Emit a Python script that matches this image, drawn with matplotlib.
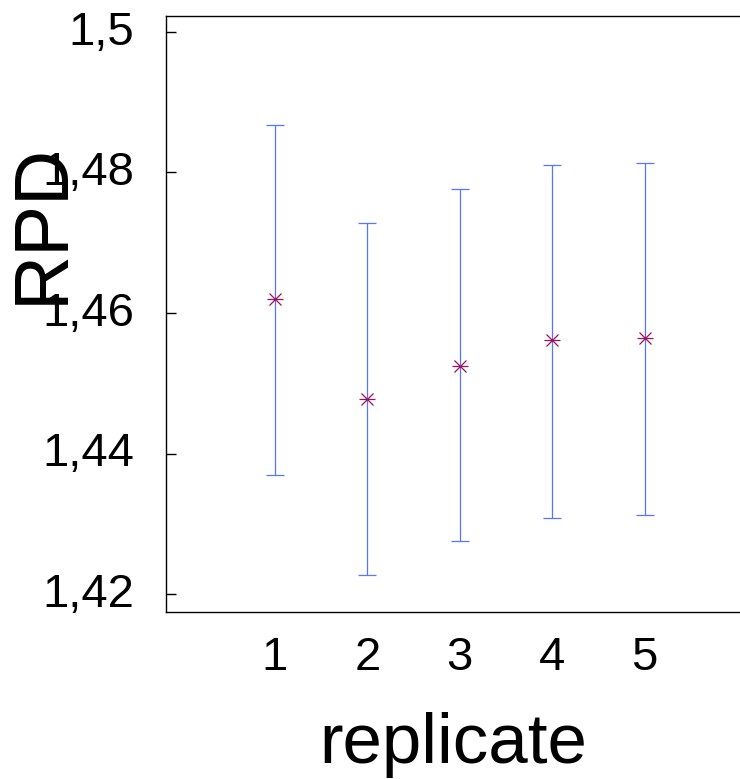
import numpy as np
import matplotlib
matplotlib.use("Agg")
import matplotlib.pyplot as plt
from matplotlib.transforms import ScaledTranslation

plt.rcParams['font.family'] = ['Liberation Sans', 'DejaVu Sans']

# replicate number, mean RPD and the ends of each error bar
replicates = [1, 2, 3, 4, 5]
rpd_mean = [1.4620, 1.4477, 1.4525, 1.4562, 1.4565]
rpd_low = [1.4369, 1.4227, 1.4275, 1.4308, 1.4312]
rpd_high = [1.4868, 1.4728, 1.4777, 1.4810, 1.4814]

y_ticks = [1.42, 1.44, 1.46, 1.48, 1.50]
y_tick_labels = ['1,42', '1,44', '1,46', '1,48', '1,5']

x = np.array(replicates)
mean = np.array(rpd_mean)
err = np.vstack([mean - np.array(rpd_low), np.array(rpd_high) - mean])

fig = plt.figure(figsize=(7.4, 7.79), dpi=100)
ax = fig.add_axes([0.2243, 0.2144, 0.7757, 0.7651])

# error bars
ax.errorbar(x, mean, yerr=err, fmt='none', ecolor='#5577ff', elinewidth=0.9,
            capsize=6.5, capthick=0.9)
# asterisk markers (x with a horizontal bar)
ax.plot(x, mean, linestyle='none', marker='x', markersize=8, color='#a0105a', markeredgewidth=0.9)
ax.plot(x, mean, linestyle='none', marker='_', markersize=11, color='#a0105a', markeredgewidth=0.9)

ax.set_xlim(-0.178, 6.03)
ax.set_ylim(1.41745, 1.50227)

ax.set_xticks(replicates)
ax.set_xticklabels([str(r) for r in replicates])
ax.set_yticks(y_ticks)
ax.set_yticklabels(y_tick_labels)

ax.tick_params(axis='y', direction='in', length=7, width=1, pad=23, labelsize=34)
ax.tick_params(axis='x', length=0, pad=17, labelsize=34)

# nudge y tick labels up a little so digits sit centred on the ticks
shift = ScaledTranslation(0, 3 / 72, fig.dpi_scale_trans)
for lab in ax.get_yticklabels():
    lab.set_transform(lab.get_transform() + shift)

ax.spines['right'].set_visible(False)
for s in ['left', 'top', 'bottom']:
    ax.spines[s].set_linewidth(1.0)

ax.set_xlabel('replicate', fontsize=51, labelpad=23)
ax.set_ylabel('RPD', fontsize=55)
ax.yaxis.set_label_coords(-0.152, 0.652)

fig.savefig('out.png', dpi=100)
